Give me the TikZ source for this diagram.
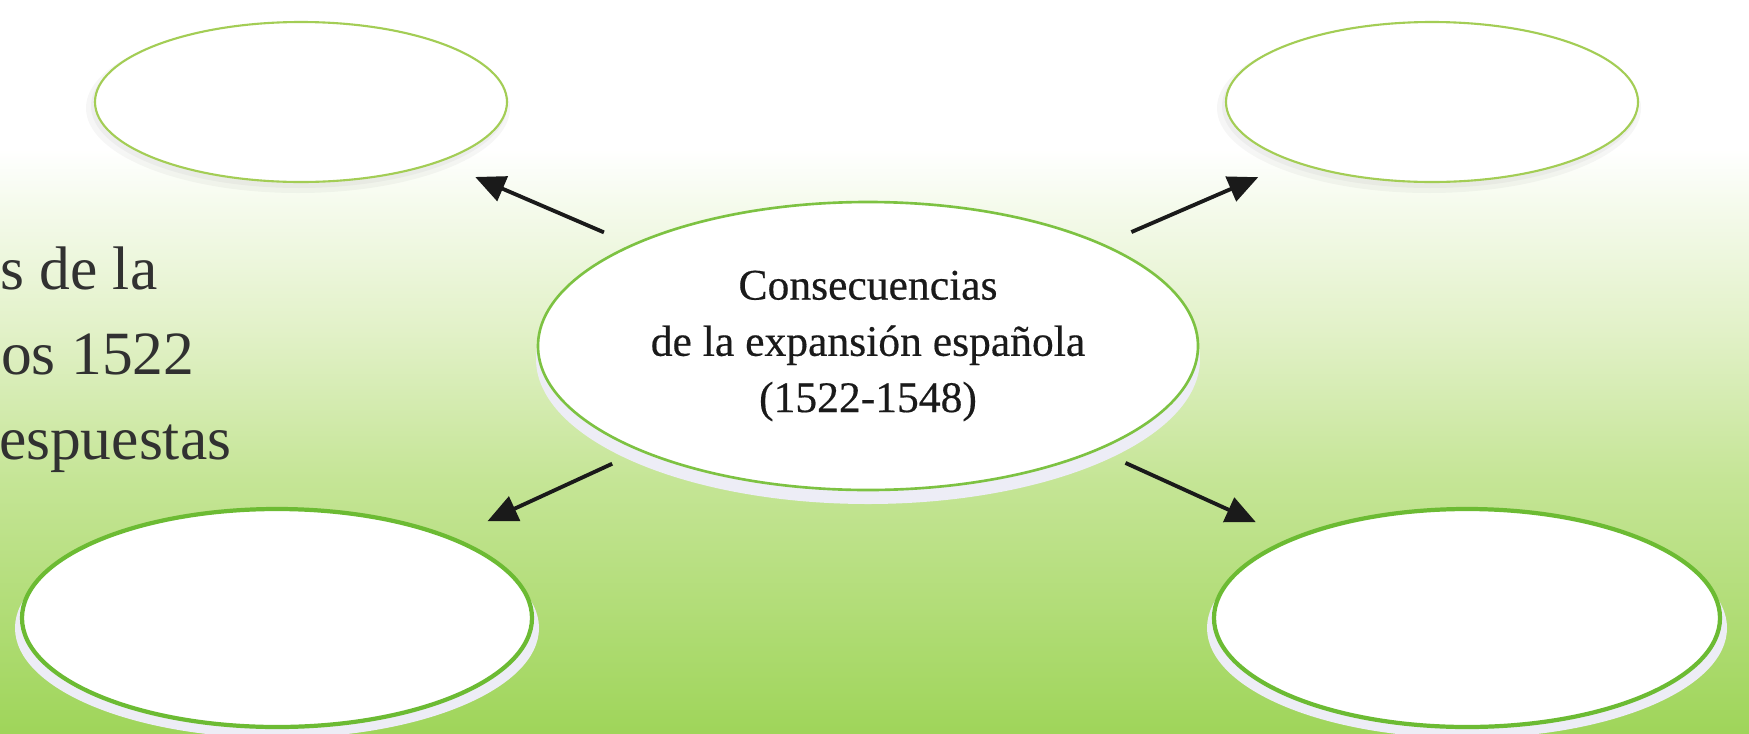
\documentclass[tikz,border=0pt]{standalone}
\usepackage{fontspec}
\setmainfont{Liberation Serif}
\newfontfamily\hubfont{Liberation Serif}[FakeBold=0.4]
\usepackage{tikz}
\usetikzlibrary{positioning, arrows.meta, shapes.geometric, backgrounds}
\definecolor{bgGreen}{HTML}{9FD55A}
\definecolor{bgMid}{HTML}{C5E596}
\definecolor{bgLight}{HTML}{E2F1C8}
\definecolor{bgPale}{HTML}{F6FBEE}
\definecolor{rimGreen}{HTML}{6CBB33}
\definecolor{rimMid}{HTML}{7DC242}
\definecolor{rimLight}{HTML}{A3CD55}
\definecolor{plateWhite}{HTML}{EDEDF6}
\definecolor{inkBlack}{HTML}{1A1A1A}
\pgfdeclareverticalshading{pageshade}{100bp}{color(0bp)=(bgGreen); color(25bp)=(bgGreen); color(42.3bp)=(bgMid); color(52.5bp)=(bgLight); color(61.4bp)=(bgPale); color(64.8bp)=(white); color(100bp)=(white)}
\newcommand{\plate}[4]{%
  \fill[plateWhite] ([yshift=-#2]#1.center) ellipse (#3 and #4);
}
\newcommand{\haze}[3]{%
  \fill[gray, opacity=0.07] ([xshift=-0.03cm, yshift=-0.06cm]#1.center) ellipse (#2+0.06cm and #3+0.05cm);
  \fill[gray, opacity=0.07] ([xshift=-0.02cm, yshift=-0.04cm]#1.center) ellipse (#2+0.02cm and #3+0.02cm);
}

\begin{document}
\begin{tikzpicture}[
  bubble/.style={ellipse, fill=white, inner sep=0pt},
  topbubble/.style={bubble, draw=rimLight, line width=0.6pt, minimum width=4.12cm, minimum height=1.60cm},
  lowbubble/.style={bubble, draw=rimGreen, line width=1.2pt, minimum height=2.18cm},
  hub/.style={bubble, draw=rimMid, line width=0.75pt, minimum width=6.60cm, minimum height=2.88cm,
    align=center, text=inkBlack, font=\hubfont\fontsize{12.4}{16}\selectfont},
  sidetext/.style={anchor=base east, inner sep=0pt, text=inkBlack!90, font=\fontsize{17.5}{24}\selectfont},
  link/.style={-{Triangle[length=8.5pt, width=7.5pt]}, line width=1.1pt, draw=inkBlack,
    shorten <=0.3cm, shorten >=0.38cm}]
  \useasboundingbox (0,0) rectangle (17.49,-7.33);
  % central topic
  \node[hub] (hub) at (8.68,-3.46) {Consecuencias\\de la expansión española\\(1522-1548)};
  % empty bubbles
  \node[topbubble] (tl) at (3.01,-1.02) {};
  \node[topbubble] (tr) at (14.32,-1.02) {};
  \node[lowbubble, minimum width=5.10cm] (bl) at (2.77,-6.18) {};
  \node[lowbubble, minimum width=5.06cm] (br) at (14.67,-6.18) {};
  % cut-off text on the left
  \node[sidetext] (s1) at (1.58,-2.89) {s de la};
  \node[sidetext] (s2) at (1.95,-3.74) {os 1522};
  \node[sidetext] (s3) at (2.32,-4.59) {espuestas};
  % arrows
  \draw[link] (hub) -- (tl);
  \draw[link] (hub) -- (tr);
  \draw[link] (hub) -- (bl);
  \draw[link] (hub) -- (br);
  \begin{scope}[on background layer]
    \shade[shading=pageshade] (0,0) rectangle (17.49,-7.33);
    \plate{hub}{0.13cm}{3.32cm}{1.45cm}
    \plate{bl}{0.10cm}{2.62cm}{1.10cm}
    \plate{br}{0.10cm}{2.60cm}{1.10cm}
    \haze{tl}{2.06cm}{0.80cm}
    \haze{tr}{2.06cm}{0.80cm}
  \end{scope}
\end{tikzpicture}
\end{document}
